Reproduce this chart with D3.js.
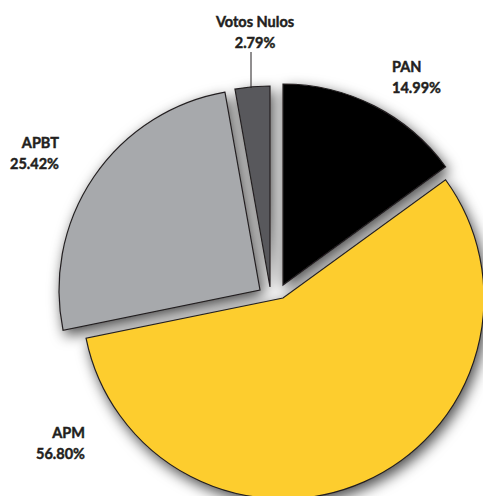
<!DOCTYPE html>
<html>
<head>
<meta charset="utf-8">
<script src="https://cdn.jsdelivr.net/npm/d3@7/dist/d3.min.js"></script>
<style>
  html, body { margin: 0; padding: 0; background: #fff; }
  svg { display: block; }
  text { font-family: Lato, "Open Sans", sans-serif; font-weight: 700; fill: #231f20; stroke: #231f20; stroke-width: 0.45px; }
</style>
</head>
<body>
<script>
// ---- data ----
const categories = ["PAN", "APM", "APBT", "Votos Nulos"];
const values = [14.99, 56.80, 25.42, 2.79];
const valueLabels = ["14.99%", "56.80%", "25.42%", "2.79%"];

// ---- styles / layout ----
const colors = ["#000000", "#fdcd2f", "#a7a9ac", "#58595b"];
const sliceOffsets = [[3, -6], [3, 7], [-20, -1], [-10, -4]];
const labelPos = [
  { x: 392, y: 72, anchor: "start" },
  { x: 85, y: 438, anchor: "end" },
  { x: 59, y: 148, anchor: "end" },
  { x: 255, y: 27, anchor: "middle" }
];

const width = 483, height = 496;
const cx = 280, cy = 291, radius = 201;

const svg = d3.select("body").append("svg")
  .attr("width", width).attr("height", height);

const defs = svg.append("defs");
const filt = defs.append("filter").attr("id", "shadow")
  .attr("x", "-30%").attr("y", "-30%").attr("width", "160%").attr("height", "160%");
filt.append("feDropShadow")
  .attr("dx", 3).attr("dy", 5).attr("stdDeviation", 7)
  .attr("flood-color", "#000").attr("flood-opacity", 0.7);

const pie = d3.pie().sort(null).value(d => d)(values);
const arc = d3.arc().innerRadius(0).outerRadius(radius);

const g = svg.append("g")
  .attr("transform", `translate(${cx},${cy})`)
  .attr("filter", "url(#shadow)");

g.selectAll("path").data(pie).join("path")
  .attr("transform", (d, i) => `translate(${sliceOffsets[i][0]},${sliceOffsets[i][1]})`)
  .attr("d", arc)
  .attr("fill", (d, i) => colors[i])
  .attr("stroke", "#231f20")
  .attr("stroke-width", 1.2)
  .attr("stroke-linejoin", "miter");

// leader line for Votos Nulos
svg.append("line")
  .attr("x1", 251).attr("y1", 52).attr("x2", 251).attr("y2", 88)
  .attr("stroke", "#231f20").attr("stroke-width", 1);

const labels = svg.append("g");
categories.forEach((c, i) => {
  const p = labelPos[i];
  const t = labels.append("text")
    .attr("x", p.x).attr("y", p.y)
    .attr("text-anchor", p.anchor)
    .style("font-size", "14.5px");
  t.append("tspan").attr("x", p.x).attr("y", p.y).text(c);
  t.append("tspan").attr("x", p.x).attr("y", p.y + 21).text(valueLabels[i]);
});
</script>
</body>
</html>
